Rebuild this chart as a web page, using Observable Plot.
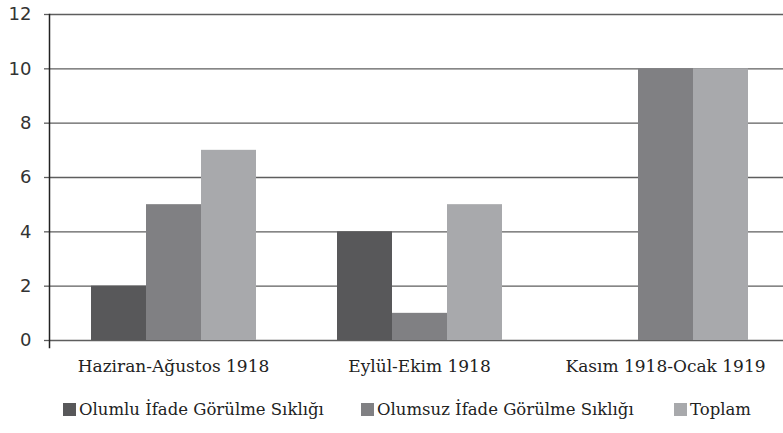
<!DOCTYPE html>
<html>
<head>
<meta charset="utf-8">
<script src="https://cdn.jsdelivr.net/npm/d3@7"></script>
<script src="https://cdn.jsdelivr.net/npm/@observablehq/plot@0.6"></script>
<style>
  body { margin: 0; background: white; width: 783px; height: 433px; overflow: hidden; position: relative; }
  #legend { position: relative; font-family: "DejaVu Serif", serif; font-size: 16.5px; color: #222; height: 20px; margin-top: 9px; }
  .item { position: absolute; top: 0; display: flex; align-items: center; height: 20px; white-space: nowrap; }
  .sw { width: 13px; height: 13px; margin-right: 3px; }
</style>
</head>
<body>
<div id="chart"></div>
<div id="legend"></div>
<script>
const groups = ["Haziran-Ağustos 1918", "Eylül-Ekim 1918", "Kasım 1918-Ocak 1919"];
const seriesNames = ["Olumlu İfade Görülme Sıklığı", "Olumsuz İfade Görülme Sıklığı", "Toplam"];
const olumlu = [2, 4, 0];
const olumsuz = [5, 1, 10];
const toplam = [7, 5, 10];
const yTicks = [0, 2, 4, 6, 8, 10, 12];
const colors = ["#58585a", "#808083", "#a8a9ac"];
const legendLeft = [63, 361, 674];

const seriesValues = [olumlu, olumsuz, toplam];
const data = [];
groups.forEach((g, gi) => seriesNames.forEach((s, si) => data.push({group: g, series: s, value: seriesValues[si][gi]})));

const chart = Plot.plot({
  width: 783,
  height: 390,
  marginLeft: 49,
  marginRight: -5,
  marginTop: 14,
  marginBottom: 50,
  style: {fontFamily: "DejaVu Serif", fontSize: "17px", color: "#222", background: "white", overflow: "hidden"},
  fx: {domain: groups, padding: 0, label: null},
  x: {domain: seriesNames, paddingInner: 0, paddingOuter: 0.7, axis: null},
  y: {domain: [0, 12], label: null},
  color: {domain: seriesNames, range: colors},
  marks: [
    Plot.gridY(yTicks, {stroke: "#5e5e5e", strokeOpacity: 1, strokeWidth: 1.3}),
    Plot.axisY(yTicks, {tickSize: 6, tickPadding: 13, fontFamily: "DejaVu Sans", fontSize: 18, fill: "#333", stroke: "#5e5e5e", strokeWidth: 1.3, label: null}),
    Plot.axisFx({anchor: "bottom", tickSize: 0, tickPadding: 19, label: null, fontSize: 17, fill: "#222"}),
    Plot.barY(data, {fx: "group", x: "series", y: "value", fill: "series"}),
    Plot.frame({anchor: "left", facetAnchor: "left", stroke: "#222", strokeWidth: 1.5, insetBottom: -7, dx: -1})
  ]
});
document.getElementById("chart").appendChild(chart);

const legend = document.getElementById("legend");
seriesNames.forEach((s, i) => {
  const item = document.createElement("div");
  item.className = "item";
  item.style.left = legendLeft[i] + "px";
  const sw = document.createElement("div");
  sw.className = "sw";
  sw.style.background = colors[i];
  const t = document.createElement("span");
  t.textContent = s;
  item.appendChild(sw);
  item.appendChild(t);
  legend.appendChild(item);
});
</script>
</body>
</html>
